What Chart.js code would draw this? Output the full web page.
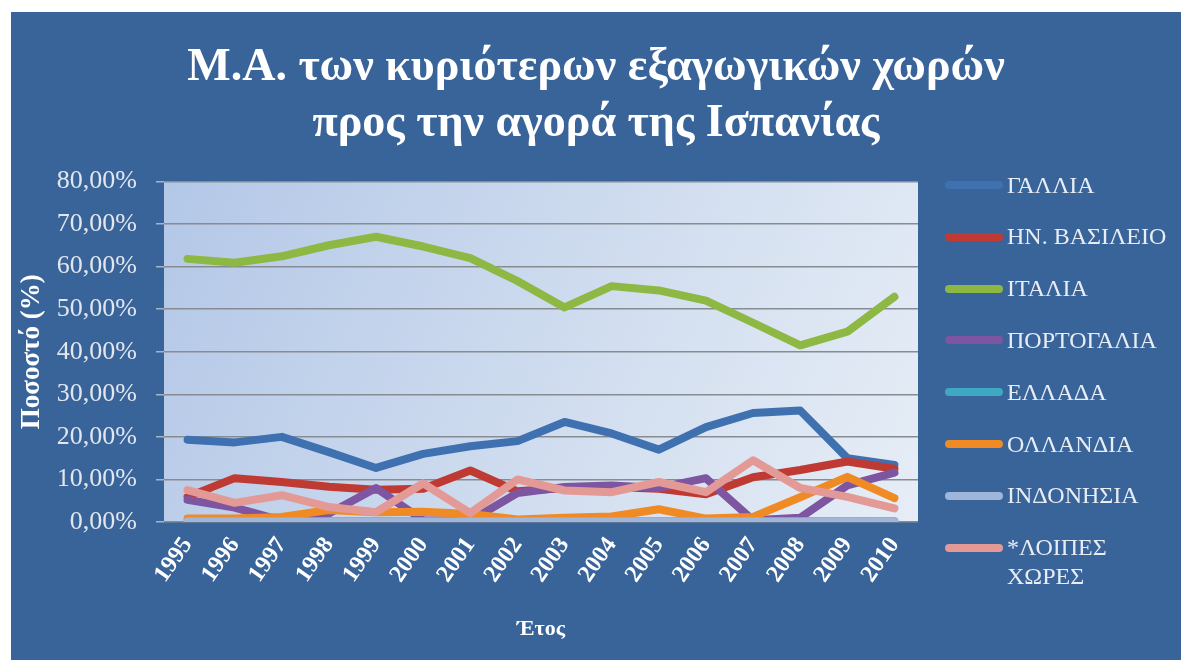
<!DOCTYPE html>
<html>
<head>
<meta charset="utf-8">
<script src="https://cdn.jsdelivr.net/npm/chart.js@4/dist/chart.umd.min.js"></script>
<style>
  body { margin: 0; background: #fff; }
  #box { position: absolute; left: 11px; top: 12px; width: 1170px; height: 648px; background: #39649a; }
  #legend { position: absolute; left: 0; top: 0; }
  .item { position: absolute; font-family: "Liberation Serif", serif; font-size: 24px; line-height: 29px; color: #e8edf5; white-space: nowrap; }
  .swatch { position: absolute; width: 58px; height: 8px; border-radius: 4px; }
</style>
</head>
<body>
<div id="box">
  <canvas id="myChart" width="1170" height="648"></canvas>
</div>
<div id="legend"></div>
<script>
const years = ['1995', '1996', '1997', '1998', '1999', '2000', '2001', '2002', '2003', '2004', '2005', '2006', '2007', '2008', '2009', '2010'];

const gallia = [19.3, 18.7, 20.0, 16.4, 12.7, 16.0, 17.8, 19.0, 23.5, 20.8, 17.0, 22.3, 25.6, 26.2, 15.0, 13.4];
const vasileio = [5.9, 10.3, 9.4, 8.3, 7.6, 7.8, 12.1, 7.2, 8.0, 8.2, 7.8, 6.5, 10.5, 12.2, 14.2, 12.5];
const italia = [61.8, 60.9, 62.4, 65.0, 67.0, 64.7, 62.0, 56.6, 50.4, 55.4, 54.4, 52.0, 46.8, 41.5, 44.7, 52.9];
const portogalia = [5.2, 3.4, 0.3, 2.0, 8.0, 0.4, 0.3, 6.8, 8.2, 8.6, 8.0, 10.3, 0.4, 1.0, 8.6, 11.6];
const ellada = [0.2, 0.2, 0.2, 0.2, 0.2, 0.2, 0.2, 0.2, 0.2, 0.2, 0.2, 0.2, 0.2, 0.2, 0.2, 0.2];
const ollandia = [0.8, 0.8, 1.2, 2.8, 2.3, 2.4, 1.9, 0.6, 1.0, 1.3, 3.0, 0.8, 1.2, 5.8, 10.6, 5.6];
const indonisia = [0.1, 0.1, 0.1, 0.1, 0.1, 0.1, 0.1, 0.1, 0.1, 0.1, 0.1, 0.1, 0.1, 0.1, 0.1, 0.1];
const loipes = [7.5, 4.5, 6.3, 3.5, 2.3, 9.1, 2.1, 10.0, 7.4, 7.0, 9.4, 7.0, 14.5, 8.0, 5.9, 3.2];

const names = ['ΓΑΛΛΙΑ', 'ΗΝ. ΒΑΣΙΛΕΙΟ', 'ΙΤΑΛΙΑ', 'ΠΟΡΤΟΓΑΛΙΑ', 'ΕΛΛΑΔΑ', 'ΟΛΛΑΝΔΙΑ', 'ΙΝΔΟΝΗΣΙΑ', ['*ΛΟΙΠΕΣ', 'ΧΩΡΕΣ']];
const series = [gallia, vasileio, italia, portogalia, ellada, ollandia, indonisia, loipes];
const colors = ['#3f71b0', '#c03a34', '#8db844', '#7d55a0', '#3fa8c2', '#f08a24', '#9fb5da', '#e39a97'];

// plot area background (light blue gradient like the excel chart)
const plotBg = {
  id: 'plotBg',
  beforeDraw(chart) {
    const {ctx, chartArea: a} = chart;
    const g = ctx.createLinearGradient(a.left, a.top, a.right, a.bottom);
    g.addColorStop(0, '#b3c7e7');
    g.addColorStop(0.6, '#d3dff0');
    g.addColorStop(1, '#e6edf6');
    ctx.save();
    ctx.fillStyle = g;
    ctx.fillRect(a.left, a.top, a.right - a.left, a.bottom - a.top);
    ctx.restore();
  }
};

const datasets = series.map((data, i) => ({
  label: Array.isArray(names[i]) ? names[i].join(' ') : names[i],
  data: data,
  borderColor: colors[i],
  backgroundColor: colors[i],
  borderWidth: 8,
  borderCapStyle: 'round',
  borderJoinStyle: 'round',
  pointRadius: 0,
  tension: 0,
  order: series.length - i
}));

const ctx = document.getElementById('myChart').getContext('2d');
const myChart = new Chart(ctx, {
  type: 'line',
  data: { labels: years, datasets: datasets },
  plugins: [plotBg],
  options: {
    responsive: false,
    animation: false,
    layout: { padding: 0 },
    plugins: {
      legend: { display: false },
      tooltip: { enabled: false },
      title: {
        display: true,
        text: ['Μ.Α. των κυριότερων εξαγωγικών χωρών', 'προς την αγορά της Ισπανίας'],
        color: '#ffffff',
        font: { family: 'Liberation Serif', size: 46, weight: 'bold', lineHeight: 1.2 },
        padding: { top: 29, bottom: 30 }
      }
    },
    scales: {
      x: {
        offset: true,
        grid: { display: false, drawTicks: false },
        border: { display: false },
        ticks: {
          color: '#ffffff',
          font: { family: 'Liberation Serif', size: 24, weight: 'bold' },
          minRotation: 55,
          maxRotation: 55,
          padding: 10,
          autoSkip: false
        },
        title: {
          display: true,
          text: 'Έτος',
          color: '#ffffff',
          font: { family: 'Liberation Serif', size: 22, weight: 'bold' },
          padding: { top: 0, bottom: 17 }
        },
        afterFit: (scale) => { scale.height = 138; }
      },
      y: {
        min: 0,
        max: 80,
        grid: { color: '#878b92', lineWidth: 1.5, tickLength: 8, tickColor: '#a8b3c4' },
        border: { display: false },
        ticks: {
          stepSize: 10,
          color: '#e2e7ef',
          font: { family: 'Liberation Serif', size: 26 },
          padding: 19,
          callback: (v) => v.toFixed(2).replace('.', ',') + '%'
        },
        title: {
          display: true,
          text: 'Ποσοστό (%)',
          color: '#ffffff',
          font: { family: 'Liberation Serif', size: 27, weight: 'bold' },
          padding: { top: 5, bottom: 0 }
        },
        afterFit: (scale) => { scale.width = 153; }
      },
      // empty right-hand scale that only keeps room for the legend
      yRight: {
        type: 'linear',
        position: 'right',
        display: true,
        grid: { display: false, drawTicks: false },
        border: { display: false },
        ticks: { display: false },
        afterFit: (scale) => { scale.width = 263; }
      }
    }
  }
});

// legend on the right, built from the same names / colors
const legend = document.getElementById('legend');
names.forEach((n, i) => {
  const cy = 185 + i * 51.8;
  const sw = document.createElement('div');
  sw.className = 'swatch';
  sw.style.left = '945px';
  sw.style.top = (cy - 4) + 'px';
  sw.style.background = colors[i];
  legend.appendChild(sw);
  const t = document.createElement('div');
  t.className = 'item';
  t.style.left = '1007px';
  t.style.top = (cy - 14.5) + 'px';
  t.innerHTML = Array.isArray(n) ? n.join('<br>') : n;
  legend.appendChild(t);
});
</script>
</body>
</html>
